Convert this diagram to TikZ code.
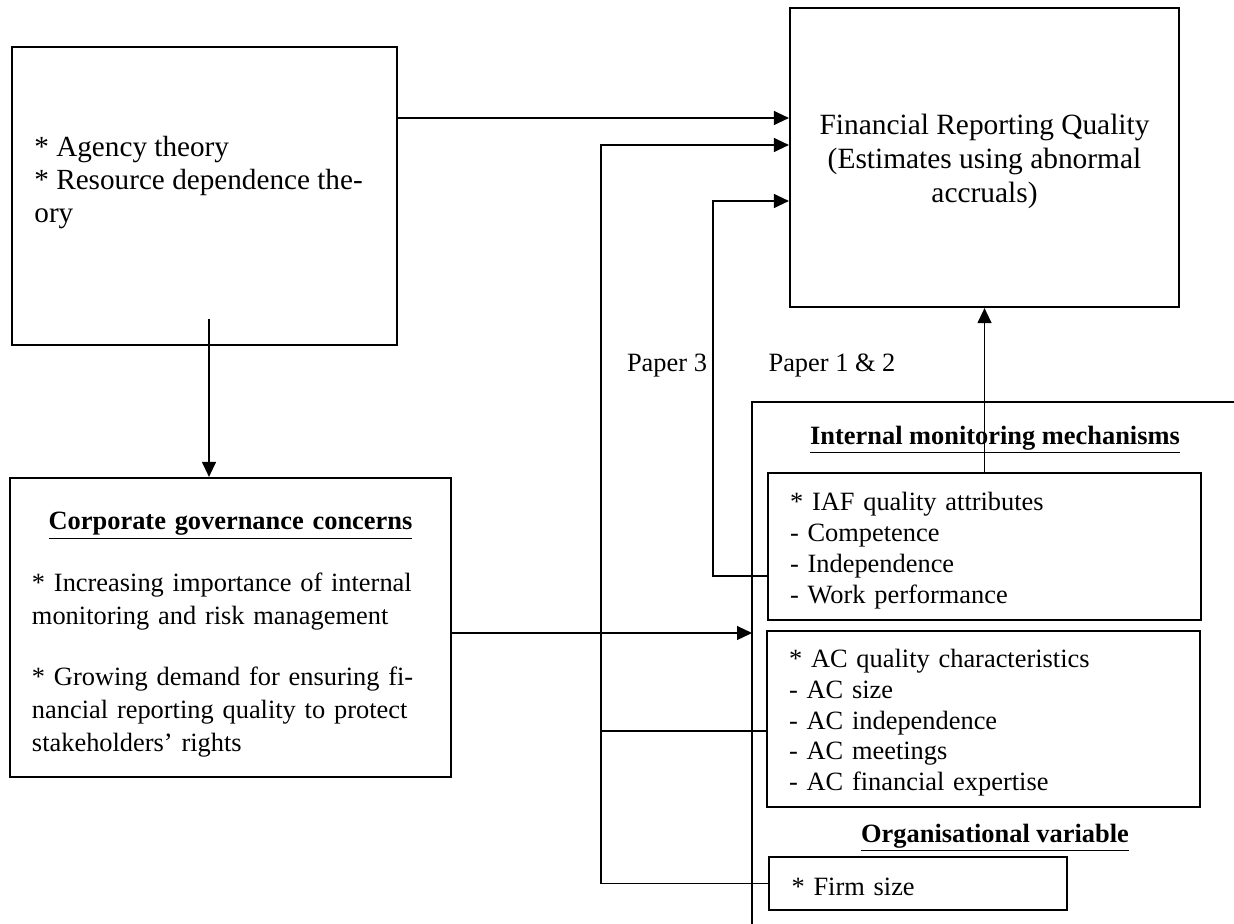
\documentclass[tikz,border=0pt]{standalone}
\usepackage{fontspec}
\setmainfont{Liberation Serif}
\usetikzlibrary{arrows.meta}
\tikzset{
  txt/.style={font=\fontsize{13.2}{16.5}\selectfont, inner sep=0pt},
  tight/.style={font=\fontsize{13.2}{15.4}\selectfont},
  big/.style={font=\fontsize{14.6}{16.5}\selectfont},
  box/.style={draw, line width=1.1pt, inner sep=0pt},
  link/.style={line width=0.6pt},
  arrow/.style={link, -{Triangle[length=7.5pt,width=7pt]}},
}
\begin{document}
\begin{tikzpicture}[x=0.5pt,y=-0.5pt]
  \useasboundingbox (0,0) rectangle (1234,924);
  \node[box, minimum width=192.5pt, minimum height=149pt] (thy) at (204.5,196) {};
  \node[txt, big, anchor=west, align=left] (thytxt) at (34,183)
    {* Agency theory\\* Resource dependence the-\\ory};
  \node[box, txt, font=\fontsize{14.7}{17}\selectfont, minimum width=194.5pt, minimum height=149.5pt, align=center] (frq) at (984.5,157.5)
    {\rule{0pt}{14.5pt}Financial Reporting Quality\\(Estimates using abnormal\\accruals)};
  \node[box, txt, minimum height=149.5pt, text width=198.5pt, inner xsep=11pt, align=left] (cg) at (230.5,627.5)
    {\centerline{\rule{0pt}{16.3pt}\underline{\textbf{Corporate governance concerns}}}\vspace{14.5pt}
     * Increasing importance of internal\\monitoring and risk management\\[14pt]
     * Growing demand for ensuring fi-\\nancial reporting quality to protect\\stakeholders’ rights};
  \draw[line width=1.1pt] (752,924) |- (1234,402);
  \node[txt] (imm) at (995,440) {\underline{\textbf{Internal monitoring mechanisms}}};
  \node[box, txt, tight, minimum height=73.5pt, text width=194.5pt, inner xsep=11pt, align=left] (iaf) at (984.5,546.5)
    {\rule{0pt}{13.5pt}* IAF quality attributes\\- Competence\\- Independence\\- Work performance};
  \node[box, txt, tight, minimum height=88pt, text width=194.5pt, inner xsep=11pt, align=left] (ac) at (983.5,719)
    {\rule{0pt}{13pt}* AC quality characteristics\\- AC size\\- AC independence\\- AC meetings\\- AC financial expertise};
  \node[txt] (orgv) at (995,838) {\underline{\textbf{Organisational variable}}};
  \node[box, txt, minimum height=26.5pt, text width=126.5pt, inner xsep=11.25pt, align=left] (firm) at (918,883.5)
    {\rule{0pt}{12pt}* Firm size};
  \node[txt] (p3) at (667,366) {Paper 3};
  \node[txt] (p12) at (832,366) {Paper 1 \& 2};
  \coordinate (r1) at (0,118);
  \coordinate (drop) at (209,319);
  \coordinate (cgr) at (752,633);
  \coordinate (p3a) at (713,576);
  \coordinate (p3b) at (713,201);
  \coordinate (ac1) at (601,731);
  \coordinate (ac2) at (601,145);
  \draw[arrow] (thy.east |- r1) -- (frq.west |- r1);
  \draw[arrow] (drop) -- (drop |- cg.north);
  \draw[arrow] (cg.east |- cgr) -- (cgr);
  \draw[arrow] (iaf.north) -- (iaf.north |- frq.south);
  \draw[arrow] (iaf.west |- p3a) -- (p3a) -- (p3b) -- (p3b -| frq.west);
  \draw[arrow] (ac.west |- ac1) -- (ac1) -- (ac2) -- (ac2 -| frq.west);
  \draw[link] (firm.west) -| (ac1);
\end{tikzpicture}
\end{document}
